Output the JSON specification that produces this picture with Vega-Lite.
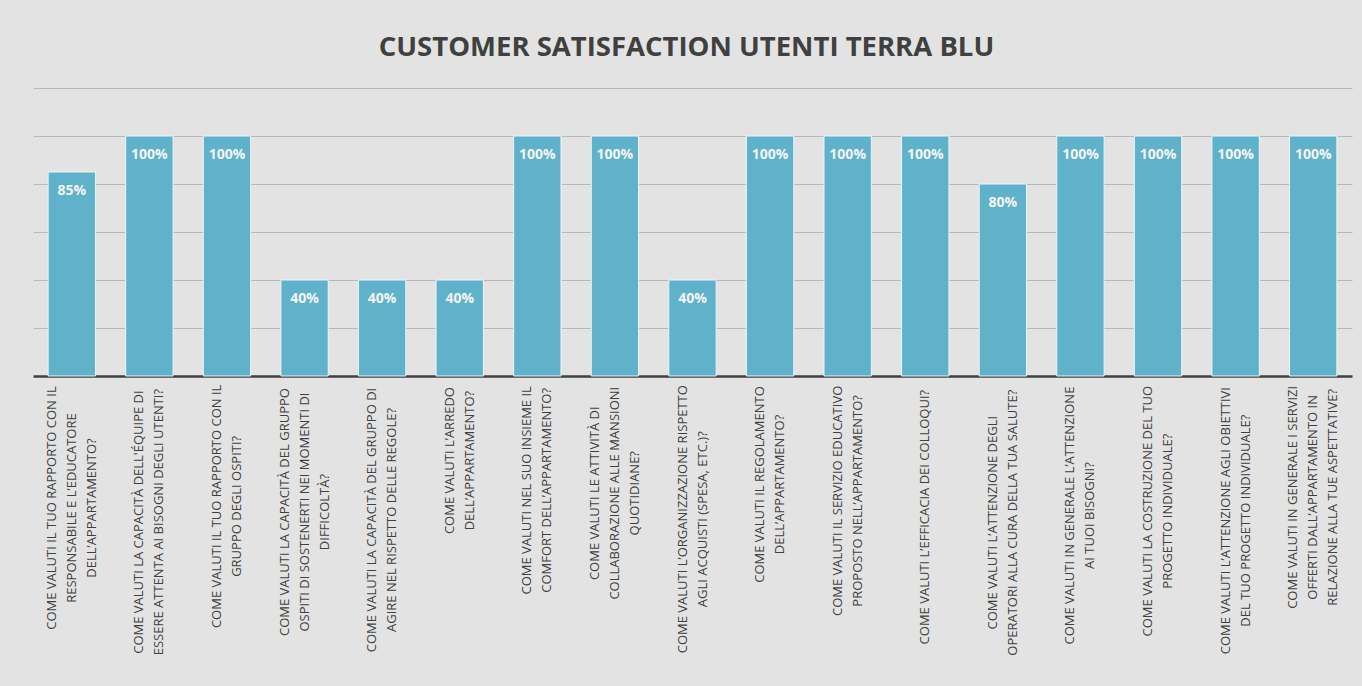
{
  "$schema": "https://vega.github.io/schema/vega-lite/v6.json",
  "width": 1319,
  "height": 288,
  "autosize": {"type": "none"},
  "padding": {"left": 33, "top": 88, "right": 10, "bottom": 310},
  "background": "#e3e3e3",
  "title": {
    "text": "CUSTOMER SATISFACTION UTENTI TERRA BLU",
    "font": "Open Sans",
    "fontSize": 27.5,
    "fontWeight": "bold",
    "color": "#404040",
    "anchor": "middle",
    "offset": 27,
    "dx": -6
  },
  "config": {"view": {"stroke": null}},
  "data": {
    "values": [
      {"q": "COME VALUTI IL TUO  RAPPORTO CON IL|RESPONSABILE E L’EDUCATORE|DELL’APPARTAMENTO?", "v": 0.85},
      {"q": "COME VALUTI LA CAPACITÀ DELL'ÉQUIPE DI|ESSERE ATTENTA  AI BISOGNI DEGLI UTENTI?", "v": 1.0},
      {"q": "COME VALUTI IL TUO RAPPORTO CON IL|GRUPPO DEGLI OSPITI?", "v": 1.0},
      {"q": "COME VALUTI LA CAPACITÀ DEL GRUPPO|OSPITI DI SOSTENERTI NEI MOMENTI DI|DIFFICOLTÀ?", "v": 0.4},
      {"q": "COME VALUTI LA CAPACITÀ DEL GRUPPO DI|AGIRE NEL RISPETTO DELLE REGOLE?", "v": 0.4},
      {"q": "COME VALUTI L’ARREDO|DELL’APPARTAMENTO?", "v": 0.4},
      {"q": "COME VALUTI NEL SUO INSIEME IL|COMFORT DELL’APPARTAMENTO?", "v": 1.0},
      {"q": "COME VALUTI LE ATTIVITÀ DI|COLLABORAZIONE ALLE MANSIONI|QUOTIDIANE?", "v": 1.0},
      {"q": "COME VALUTI L’ORGANIZZAZIONE RISPETTO|AGLI ACQUISTI (SPESA, ETC.)?", "v": 0.4},
      {"q": "COME VALUTI IL REGOLAMENTO|DELL’APPARTAMENTO?", "v": 1.0},
      {"q": "COME VALUTI IL SERVIZIO EDUCATIVO|PROPOSTO NELL’APPARTAMENTO?", "v": 1.0},
      {"q": "COME VALUTI L’EFFICACIA DEI COLLOQUI?", "v": 1.0},
      {"q": "COME VALUTI L’ATTENZIONE DEGLI|OPERATORI ALLA CURA DELLA TUA SALUTE?", "v": 0.8},
      {"q": "COME VALUTI IN GENERALE L’ATTENZIONE|AI TUOI BISOGNI?", "v": 1.0},
      {"q": "COME VALUTI LA COSTRUZIONE DEL TUO|PROGETTO INDIVIDUALE?", "v": 1.0},
      {"q": "COME VALUTI L’ATTENZIONE AGLI OBIETTIVI|DEL TUO PROGETTO INDIVIDUALE?", "v": 1.0},
      {"q": "COME VALUTI IN GENERALE I SERVIZI|OFFERTI DALL’APPARTAMENTO IN|RELAZIONE ALLA TUE ASPETTATIVE?", "v": 1.0}
    ]
  },
  "encoding": {
    "x": {
      "field": "q",
      "type": "nominal",
      "sort": null,
      "title": null,
      "scale": {"paddingInner": 0.39, "paddingOuter": 0.195},
      "axis": {
        "labels": false,
        "ticks": false,
        "grid": false,
        "domainColor": "#404040",
        "domainWidth": 2.5
      }
    }
  },
  "layer": [
    {
      "mark": {"type": "bar", "color": "#5fb2ca", "stroke": "#eaf5f8", "strokeWidth": 1},
      "encoding": {
        "y": {
          "field": "v",
          "type": "quantitative",
          "scale": {"domain": [0, 1.2]},
          "axis": {
            "title": null,
            "labels": false,
            "ticks": false,
            "domain": false,
            "grid": true,
            "values": [0.2, 0.4, 0.6, 0.8, 1.0, 1.2],
            "gridColor": "#b8b8b8",
            "gridWidth": 1
          }
        }
      }
    },
    {
      "mark": {"type": "text", "baseline": "middle", "dy": 19, "font": "Open Sans", "fontSize": 14, "fontWeight": "bold", "color": "#f5f5f5"},
      "encoding": {
        "y": {"field": "v", "type": "quantitative"},
        "text": {"field": "v", "type": "quantitative", "format": ".0%"}
      }
    },
    {
      "mark": {
        "type": "text",
        "angle": 270,
        "align": "center",
        "baseline": "middle",
        "lineBreak": "|",
        "lineHeight": 20,
        "font": "Open Sans",
        "fontSize": 13,
        "color": "#404040",
        "dx": {"expr": "-(11 + 6.5 * max((0.7*length((split(datum.q,'|')[0]||''))-0.14*(length((split(datum.q,'|')[0]||''))-length(replace((split(datum.q,'|')[0]||''),regexp(\"[EFLPRSTVZ?JYKX]\",\"g\"),'')))-0.44*(length((split(datum.q,'|')[0]||''))-length(replace((split(datum.q,'|')[0]||''),regexp(\"[I'’., ()]\",\"g\"),'')))+0.2*(length((split(datum.q,'|')[0]||''))-length(replace((split(datum.q,'|')[0]||''),regexp(\"M\",\"g\"),'')))), (0.7*length((split(datum.q,'|')[1]||''))-0.14*(length((split(datum.q,'|')[1]||''))-length(replace((split(datum.q,'|')[1]||''),regexp(\"[EFLPRSTVZ?JYKX]\",\"g\"),'')))-0.44*(length((split(datum.q,'|')[1]||''))-length(replace((split(datum.q,'|')[1]||''),regexp(\"[I'’., ()]\",\"g\"),'')))+0.2*(length((split(datum.q,'|')[1]||''))-length(replace((split(datum.q,'|')[1]||''),regexp(\"M\",\"g\"),'')))), (0.7*length((split(datum.q,'|')[2]||''))-0.14*(length((split(datum.q,'|')[2]||''))-length(replace((split(datum.q,'|')[2]||''),regexp(\"[EFLPRSTVZ?JYKX]\",\"g\"),'')))-0.44*(length((split(datum.q,'|')[2]||''))-length(replace((split(datum.q,'|')[2]||''),regexp(\"[I'’., ()]\",\"g\"),'')))+0.2*(length((split(datum.q,'|')[2]||''))-length(replace((split(datum.q,'|')[2]||''),regexp(\"M\",\"g\"),''))))))"},
        "dy": {"expr": "-10 * (length(split(datum.q, '|')) - 1)"}
      },
      "encoding": {
        "y": {"datum": 0, "type": "quantitative"},
        "text": {"field": "q", "type": "nominal"}
      }
    }
  ]
}
